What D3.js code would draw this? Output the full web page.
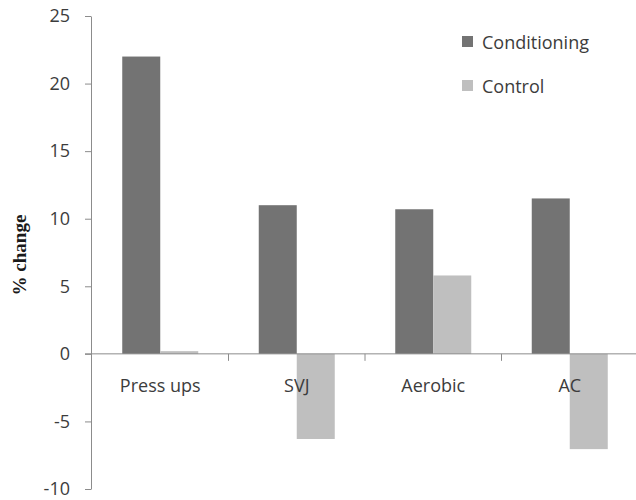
<!DOCTYPE html>
<html>
<head>
<meta charset="utf-8">
<script src="https://cdn.jsdelivr.net/npm/d3@7"></script>
<style>
  html, body { margin: 0; padding: 0; background: #fff; }
  svg { display: block; }
</style>
</head>
<body>
<svg id="chart" width="636" height="500"></svg>
<script>
const categories = ["Press ups", "SVJ", "Aerobic", "AC"];
const seriesNames = ["Conditioning", "Control"];
const conditioning = [22, 11, 10.7, 11.5];
const control = [0.2, -6.3, 5.8, -7.05];
const yTicks = [-10, -5, 0, 5, 10, 15, 20, 25];
const colors = ["#737373", "#bfbfbf"];

const svg = d3.select("#chart");
const textColor = "#3c3c3c";
const axisColor = "#8c8c8c";
const font = "'Open Sans', sans-serif";

const x = d3.scaleBand().domain(categories).range([92, 638]).paddingInner(0).paddingOuter(0);
const xSub = d3.scaleBand().domain(seriesNames).range([0, x.bandwidth()]).paddingInner(0).paddingOuter(0.796);
const y = d3.scaleLinear().domain([-10, 25]).range([489, 16]);

const data = categories.map((c, i) => ({ cat: c, vals: [conditioning[i], control[i]] }));

// y axis
const yAxis = d3.axisLeft(y).tickValues(yTicks).tickFormat(d => String(d))
  .tickSize(6).tickSizeOuter(0).tickPadding(15);
const gy = svg.append("g").attr("transform", "translate(91,0)").call(yAxis);
gy.select(".domain").attr("stroke", axisColor);
gy.selectAll(".tick line").attr("stroke", axisColor);
gy.selectAll(".tick text").attr("fill", textColor).style("font-family", font).style("font-size", "18px");

// bars
const groups = svg.append("g").selectAll("g").data(data).join("g")
  .attr("transform", d => `translate(${x(d.cat)},0)`);
groups.selectAll("rect").data(d => d.vals.map((v, j) => ({ v, s: seriesNames[j], j })))
  .join("rect")
  .attr("x", d => xSub(d.s))
  .attr("width", xSub.bandwidth())
  .attr("y", d => y(Math.max(0, d.v)))
  .attr("height", d => Math.abs(y(d.v) - y(0)))
  .attr("fill", d => colors[d.j]);

// x axis line at zero
const y0 = y(0);
svg.append("line").attr("x1", 85).attr("x2", 636).attr("y1", y0).attr("y2", y0)
  .attr("stroke", axisColor).attr("stroke-width", 1);
// tick marks at band boundaries
const bounds = categories.map(c => x(c)).concat([x(categories[categories.length - 1]) + x.bandwidth()]);
svg.append("g").selectAll("line").data(bounds.slice(1)).join("line")
  .attr("x1", d => d).attr("x2", d => d).attr("y1", y0).attr("y2", y0 + 7)
  .attr("stroke", axisColor);

// category labels
svg.append("g").selectAll("text").data(categories).join("text")
  .attr("x", d => x(d) + x.bandwidth() / 2)
  .attr("y", 392)
  .attr("text-anchor", "middle")
  .attr("fill", textColor)
  .style("font-family", font).style("font-size", "18px")
  .text(d => d);

// y label
svg.append("text")
  .attr("transform", "translate(26,255) rotate(-90)")
  .attr("text-anchor", "middle")
  .attr("fill", "#1a1a1a")
  .style("font-family", "'Liberation Serif', 'Times New Roman', serif")
  .style("font-weight", "bold")
  .style("font-size", "19px")
  .text("% change");

// legend
const legend = svg.append("g").selectAll("g").data(seriesNames).join("g")
  .attr("transform", (d, i) => `translate(462,${36 + i * 44})`);
legend.append("rect").attr("width", 11).attr("height", 11).attr("fill", (d, i) => colors[i]);
legend.append("text").attr("x", 20).attr("y", 13)
  .attr("fill", textColor)
  .style("font-family", font).style("font-size", "18px")
  .text(d => d);
</script>
</body>
</html>
